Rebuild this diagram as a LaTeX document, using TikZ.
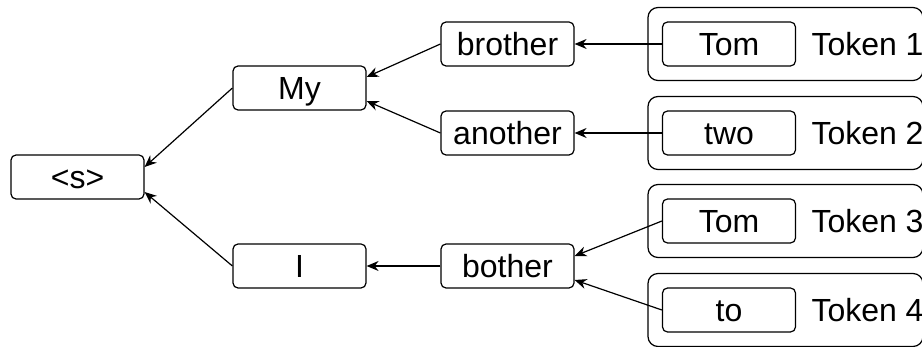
\documentclass[tikz,border=0pt]{standalone}
\usepackage{fontspec}
\setmainfont{Liberation Sans}
\usepackage{tikz}
\usetikzlibrary{arrows.meta, positioning}
\tikzset{
    word/.style={rectangle, rounded corners=2.5pt, minimum width=66.5pt, minimum height=22pt, text centered, draw, line width=0.6pt, font=\fontsize{16}{19}\selectfont, text height=11.5pt, text depth=0pt},
    tokenlabel/.style={inner sep=0pt, font=\fontsize{16}{19}\selectfont, text height=11.5pt, text depth=0pt},
    group/.style={rectangle, rounded corners=5pt, draw, line width=0.6pt, minimum width=137.5pt, minimum height=36.5pt},
    arrow/.style={->, line width=0.6pt, >={Stealth[length=6pt, width=5pt]}}
}

\begin{document}
\begin{tikzpicture}[x=0.5pt, y=-0.5pt]
    \path[use as bounding box, clip] (0,0) rectangle (922,347);

    % Token groups
    \node[group] (grp1) at (785.5,44) {};
    \node[group] (grp2) at (785.5,133) {};
    \node[group] (grp3) at (785.5,221) {};
    \node[group] (grp4) at (785.5,310) {};

    % Root
    \node[word] (start) at (77.5,177) {<s>};

    % First words
    \node[word] (my) at (299.5,88) {My};
    \node[word] (i) at (299.5,266) {I};

    % Second words
    \node[word] (brother) at (507.5,44) {brother};
    \node[word] (another) at (507.5,133) {another};
    \node[word] (bother) at (507.5,266) {bother};

    % Tokens
    \node[word] (tom1) at (729,44) {Tom};
    \node[word] (two) at (729,133) {two};
    \node[word] (tom2) at (729,221) {Tom};
    \node[word] (to) at (729,310) {to};
    \node[tokenlabel, right=7.5pt of tom1] (tok1) {Token 1};
    \node[tokenlabel, right=7.5pt of two] (tok2) {Token 2};
    \node[tokenlabel, right=7.5pt of tom2] (tok3) {Token 3};
    \node[tokenlabel, right=7.5pt of to] (tok4) {Token 4};

    % Connections
    \draw[arrow] (tom1.west) -- (brother.east);
    \draw[arrow] (two.west) -- (another.east);
    \draw[arrow] (tom2.west) -- ([yshift=5pt]bother.east);
    \draw[arrow] (to.west) -- ([yshift=-7pt]bother.east);
    \draw[arrow] (brother.west) -- ([yshift=5.5pt]my.east);
    \draw[arrow] (another.west) -- ([yshift=-6.5pt]my.east);
    \draw[arrow] (bother.west) -- (i.east);
    \draw[arrow] (my.west) -- ([yshift=5pt]start.east);
    \draw[arrow] (i.west) -- ([yshift=-7.5pt]start.east);
\end{tikzpicture}
\end{document}
